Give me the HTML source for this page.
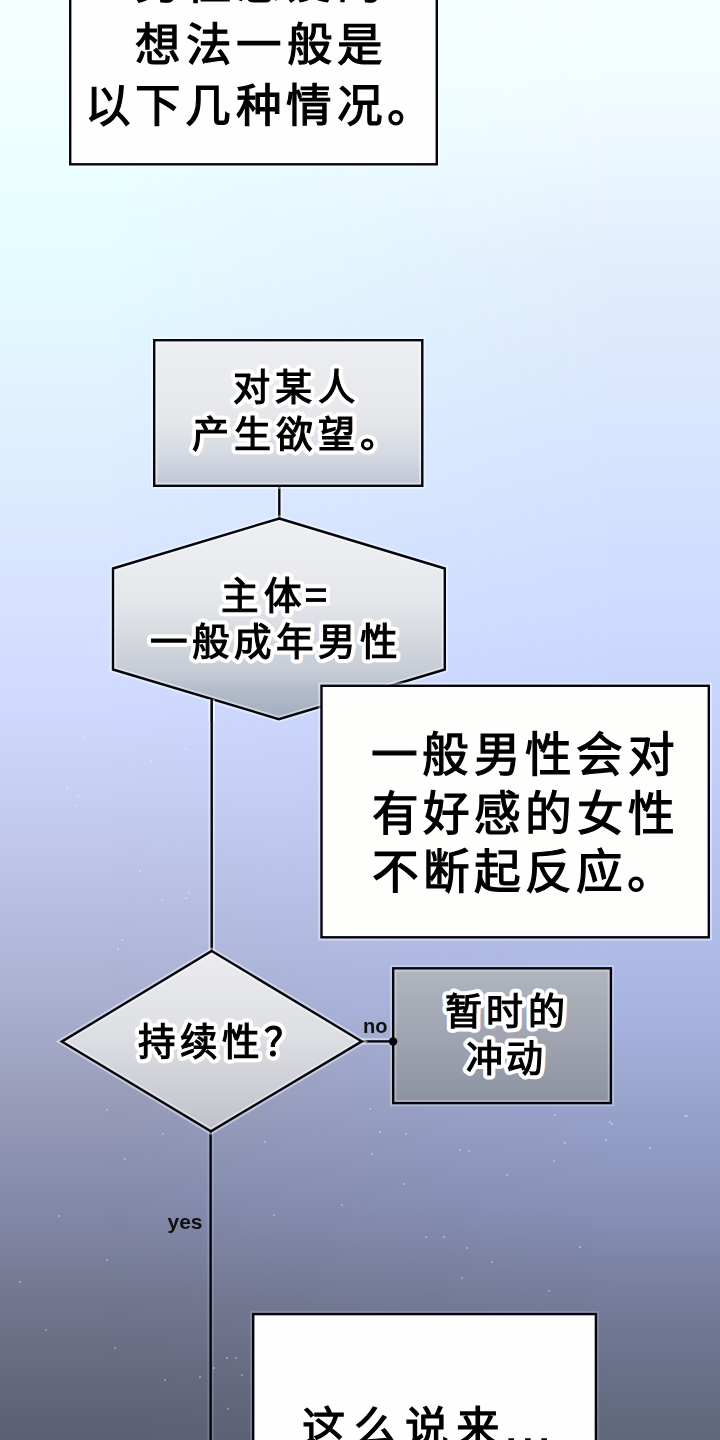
<!DOCTYPE html>
<html lang="zh-CN">
<head>
<meta charset="utf-8">
<title>flowchart</title>
<style>
html,body{margin:0;padding:0;width:720px;height:1440px;overflow:hidden;background:#8890b0;}
body{font-family:"Liberation Sans",sans-serif;}
svg{display:block;position:absolute;left:0;top:0;}
</style>
</head>
<body>
<svg width="720" height="1440" viewBox="0 0 720 1440"><defs><linearGradient id="bgL" gradientUnits="userSpaceOnUse" x1="0" y1="0" x2="0" y2="1440"><stop offset="0.0000" stop-color="#f6ffff"/><stop offset="0.0347" stop-color="#f4feff"/><stop offset="0.1042" stop-color="#ecffff"/><stop offset="0.1736" stop-color="#e6fcff"/><stop offset="0.2778" stop-color="#e0f2fe"/><stop offset="0.3472" stop-color="#dceafe"/><stop offset="0.4167" stop-color="#d6e2fe"/><stop offset="0.4861" stop-color="#d0dafe"/><stop offset="0.5556" stop-color="#c6cef0"/><stop offset="0.6250" stop-color="#b8bee0"/><stop offset="0.6944" stop-color="#aab0d0"/><stop offset="0.7639" stop-color="#989cb8"/><stop offset="0.8333" stop-color="#858aab"/><stop offset="0.9028" stop-color="#72768e"/><stop offset="0.9861" stop-color="#5e6276"/><stop offset="1.0000" stop-color="#5c6074"/></linearGradient><linearGradient id="bgR" gradientUnits="userSpaceOnUse" x1="0" y1="0" x2="0" y2="1440"><stop offset="0.0000" stop-color="#f6ffff"/><stop offset="0.0347" stop-color="#f4feff"/><stop offset="0.1042" stop-color="#ecf8ff"/><stop offset="0.1736" stop-color="#e2eefc"/><stop offset="0.3125" stop-color="#d6e4fe"/><stop offset="0.4375" stop-color="#ccdafe"/><stop offset="0.5521" stop-color="#c0ccf8"/><stop offset="0.7014" stop-color="#a8b4e0"/><stop offset="0.8403" stop-color="#8690b6"/><stop offset="0.9028" stop-color="#767c9a"/><stop offset="0.9792" stop-color="#646a80"/><stop offset="1.0000" stop-color="#60667c"/></linearGradient><linearGradient id="g2" gradientUnits="userSpaceOnUse" x1="0" y1="341" x2="0" y2="485"><stop offset="0.0000" stop-color="#eceef2"/><stop offset="0.4097" stop-color="#e8e9ed"/><stop offset="0.5486" stop-color="#e4e7ea"/><stop offset="0.6875" stop-color="#dcdfe4"/><stop offset="0.7917" stop-color="#d4d9e3"/><stop offset="0.8958" stop-color="#cacfdb"/><stop offset="1.0000" stop-color="#bec6d2"/></linearGradient><linearGradient id="ghex" gradientUnits="userSpaceOnUse" x1="0" y1="519" x2="0" y2="718"><stop offset="0.0000" stop-color="#eeeff2"/><stop offset="0.2563" stop-color="#eaebee"/><stop offset="0.4070" stop-color="#e4e6ea"/><stop offset="0.5075" stop-color="#dcdfe4"/><stop offset="0.6080" stop-color="#d4d8de"/><stop offset="0.7085" stop-color="#cbd0d8"/><stop offset="0.7839" stop-color="#c4cad4"/><stop offset="0.8593" stop-color="#b4bcca"/><stop offset="1.0000" stop-color="#a4aec0"/></linearGradient><linearGradient id="gdia" gradientUnits="userSpaceOnUse" x1="0" y1="952" x2="0" y2="1130"><stop offset="0.0000" stop-color="#ececf0"/><stop offset="0.2697" stop-color="#e4e5e9"/><stop offset="0.4944" stop-color="#dcdde2"/><stop offset="0.7191" stop-color="#d0d1d8"/><stop offset="0.8876" stop-color="#c6c8cf"/><stop offset="1.0000" stop-color="#bec0c8"/></linearGradient><linearGradient id="g4" gradientUnits="userSpaceOnUse" x1="0" y1="969" x2="0" y2="1103"><stop offset="0.0000" stop-color="#b0b6be"/><stop offset="0.2313" stop-color="#a8adb8"/><stop offset="0.4552" stop-color="#a2a6b2"/><stop offset="0.6791" stop-color="#9a9eab"/><stop offset="0.9030" stop-color="#8f96a4"/><stop offset="1.0000" stop-color="#8a92a2"/></linearGradient><linearGradient id="hm" x1="0" y1="0" x2="1" y2="0"><stop offset="0" stop-color="#000"/><stop offset="0.15" stop-color="#000"/><stop offset="0.85" stop-color="#fff"/><stop offset="1" stop-color="#fff"/></linearGradient><mask id="rm" maskUnits="userSpaceOnUse" x="0" y="0" width="720" height="1440"><rect x="0" y="0" width="720" height="1440" fill="url(#hm)"/></mask></defs>
<rect x="0" y="0" width="720" height="1440" fill="url(#bgL)"/>
<rect x="0" y="0" width="720" height="1440" fill="url(#bgR)" mask="url(#rm)"/>
<g fill="#fff" fill-opacity="0.45"><circle cx="84" cy="738" r="0.9"/><circle cx="186" cy="749" r="0.9"/><circle cx="151" cy="761" r="0.9"/><circle cx="67" cy="788" r="0.9"/><circle cx="78" cy="796" r="0.9"/><circle cx="76" cy="806" r="0.9"/><circle cx="140" cy="871" r="0.9"/><circle cx="189" cy="893" r="0.9"/><circle cx="186" cy="898" r="0.9"/><circle cx="162" cy="900" r="0.9"/><circle cx="122" cy="940" r="0.9"/><circle cx="118" cy="949" r="0.9"/><circle cx="107" cy="1110" r="0.9"/><circle cx="125" cy="1159" r="0.9"/><circle cx="163" cy="1134" r="0.9"/><circle cx="265" cy="1142" r="0.9"/><circle cx="342" cy="1205" r="0.9"/><circle cx="274" cy="1215" r="0.9"/><circle cx="107" cy="1260" r="0.9"/><circle cx="59" cy="1216" r="0.9"/><circle cx="20" cy="1282" r="0.9"/><circle cx="380" cy="1132" r="0.9"/><circle cx="372" cy="1154" r="0.9"/><circle cx="406" cy="1134" r="0.9"/><circle cx="460" cy="1150" r="0.9"/><circle cx="469" cy="1151" r="0.9"/><circle cx="554" cy="1161" r="0.9"/><circle cx="606" cy="1140" r="0.9"/><circle cx="555" cy="1115" r="0.9"/><circle cx="507" cy="1175" r="0.9"/><circle cx="404" cy="1184" r="0.9"/><circle cx="426" cy="1237" r="0.9"/><circle cx="444" cy="1237" r="0.9"/><circle cx="467" cy="1248" r="0.9"/><circle cx="492" cy="1262" r="0.9"/><circle cx="462" cy="1278" r="0.9"/><circle cx="549" cy="1291" r="0.9"/><circle cx="580" cy="1247" r="0.9"/><circle cx="650" cy="1148" r="0.9"/><circle cx="685" cy="1116" r="0.9"/><circle cx="370" cy="1109" r="0.9"/><circle cx="565" cy="1143" r="0.9"/><circle cx="610" cy="1122" r="0.9"/><circle cx="46" cy="1330" r="0.9"/><circle cx="115" cy="1348" r="0.9"/><circle cx="165" cy="1380" r="0.9"/><circle cx="200" cy="1377" r="0.9"/><circle cx="227" cy="1358" r="0.9"/><circle cx="236" cy="1358" r="0.9"/><circle cx="242" cy="1375" r="0.9"/><circle cx="228" cy="1409" r="0.9"/><circle cx="214" cy="1368" r="0.9"/><circle cx="687" cy="1116" r="0.9"/><circle cx="612" cy="1124" r="0.9"/></g>
<line x1="279.3" y1="487" x2="279.3" y2="519" stroke="#fff" stroke-opacity="0.45" stroke-width="6.4"/><line x1="279.3" y1="487" x2="279.3" y2="519" stroke="#05050f" stroke-width="2.4"/>
<line x1="211.7" y1="700" x2="211.7" y2="951" stroke="#fff" stroke-opacity="0.45" stroke-width="6.4"/><line x1="211.7" y1="700" x2="211.7" y2="951" stroke="#05050f" stroke-width="2.4"/>
<line x1="210.6" y1="1131" x2="210.6" y2="1445" stroke="#fff" stroke-opacity="0.15" stroke-width="6.4"/><line x1="210.6" y1="1131" x2="210.6" y2="1445" stroke="#05050f" stroke-width="2.4"/>
<line x1="362" y1="1041.4" x2="393" y2="1041.4" stroke="#fff" stroke-opacity="0.45" stroke-width="6.4"/><line x1="362" y1="1041.4" x2="393" y2="1041.4" stroke="#05050f" stroke-width="2.4"/>
<rect x="70.20" y="-18.80" width="366.60" height="183.10" fill="#fefefe"/><rect x="70.20" y="-18.80" width="366.60" height="183.10" fill="none" stroke="#fff" stroke-opacity="0.45" stroke-width="6.4"/><rect x="70.20" y="-18.80" width="366.60" height="183.10" fill="none" stroke="#05050f" stroke-width="2.4"/>
<rect x="154.20" y="340.20" width="268.10" height="145.60" fill="url(#g2)"/><rect x="154.20" y="340.20" width="268.10" height="145.60" fill="none" stroke="#fff" stroke-opacity="0.45" stroke-width="6.4"/><rect x="154.20" y="340.20" width="268.10" height="145.60" fill="none" stroke="#05050f" stroke-width="2.4"/>
<polygon points="279.3,518.5 444.8,568.5 444.8,669.5 278.8,719.2 113,669.5 113,568.5" fill="url(#ghex)"/><polygon points="279.3,518.5 444.8,568.5 444.8,669.5 278.8,719.2 113,669.5 113,568.5" fill="none" stroke="#fff" stroke-opacity="0.45" stroke-width="6.4" stroke-linejoin="miter"/><polygon points="279.3,518.5 444.8,568.5 444.8,669.5 278.8,719.2 113,669.5 113,568.5" fill="none" stroke="#05050f" stroke-width="2.4" stroke-linejoin="miter"/>
<line x1="211.7" y1="699" x2="211.7" y2="722" stroke="#fff" stroke-opacity="0.45" stroke-width="6.4"/><line x1="211.7" y1="699" x2="211.7" y2="722" stroke="#05050f" stroke-width="2.4"/>
<rect x="321.50" y="685.80" width="387.30" height="251.50" fill="#fefefd"/><rect x="321.50" y="685.80" width="387.30" height="251.50" fill="none" stroke="#fff" stroke-opacity="0.45" stroke-width="6.4"/><rect x="321.50" y="685.80" width="387.30" height="251.50" fill="none" stroke="#05050f" stroke-width="2.4"/>
<polygon points="211.7,951 361.8,1041.4 210.9,1131.3 61.8,1041.6" fill="url(#gdia)"/><polygon points="211.7,951 361.8,1041.4 210.9,1131.3 61.8,1041.6" fill="none" stroke="#fff" stroke-opacity="0.45" stroke-width="6.4" stroke-linejoin="miter"/><polygon points="211.7,951 361.8,1041.4 210.9,1131.3 61.8,1041.6" fill="none" stroke="#05050f" stroke-width="2.4" stroke-linejoin="miter"/>
<rect x="393.20" y="968.30" width="217.70" height="134.80" fill="url(#g4)"/><rect x="393.20" y="968.30" width="217.70" height="134.80" fill="none" stroke="#fff" stroke-opacity="0.3" stroke-width="6.4"/><rect x="393.20" y="968.30" width="217.70" height="134.80" fill="none" stroke="#05050f" stroke-width="2.4"/>
<circle cx="393.1" cy="1041.5" r="4.2" fill="#05050f"/>
<rect x="253.20" y="1314.10" width="342.70" height="144.70" fill="#fefefe"/><rect x="253.20" y="1314.10" width="342.70" height="144.70" fill="none" stroke="#fff" stroke-opacity="0.15" stroke-width="6.4"/><rect x="253.20" y="1314.10" width="342.70" height="144.70" fill="none" stroke="#05050f" stroke-width="2.4"/>
<g font-family="Liberation Sans, sans-serif" fill="#fff" stroke="#fff" stroke-width="9.2" stroke-linejoin="round"><text x="233.0" y="401.0" font-size="37.2" letter-spacing="5.3">对某人</text><text x="191.6" y="448.4" font-size="37.0" letter-spacing="5.1">产生欲望。</text><text x="221.3" y="609.3" font-size="37.6" letter-spacing="5.1">主体</text><text x="150.0" y="655.1" font-size="37.6" letter-spacing="4.0">一般成年男性</text><text x="137.6" y="1054.8" font-size="37.5" letter-spacing="5.0">持续性？</text><text x="445.3" y="1025.2" font-size="37.0" letter-spacing="4.2">暂时的</text><text x="466.2" y="1071.9" font-size="37.0" letter-spacing="2.6">冲动</text></g>
<g font-family="Liberation Sans, sans-serif" fill="#000" stroke="#000" stroke-width="1.2" opacity="0.999"><text x="135.4" y="-0.7" font-size="45.5" letter-spacing="4.5">男性恋爱的</text><text x="135.4" y="61.0" font-size="45.5" letter-spacing="4.5">想法一般是</text><text x="84.6" y="122.0" font-size="45.6" letter-spacing="4.4">以下几种情况。</text><text x="233.0" y="401.0" font-size="37.2" letter-spacing="5.3">对某人</text><text x="191.6" y="448.4" font-size="37.0" letter-spacing="5.1">产生欲望。</text><text x="221.3" y="609.3" font-size="37.6" letter-spacing="5.1">主体</text><text x="150.0" y="655.1" font-size="37.6" letter-spacing="4.0">一般成年男性</text><text x="370.8" y="770.9" font-size="46.7" letter-spacing="4.4">一般男性会对</text><text x="371.8" y="830.2" font-size="46.7" letter-spacing="4.2">有好感的女性</text><text x="372.2" y="887.5" font-size="46.7" letter-spacing="4.05">不断起反应。</text><text x="137.6" y="1054.8" font-size="37.5" letter-spacing="5.0">持续性？</text><text x="445.3" y="1025.2" font-size="37.0" letter-spacing="4.2">暂时的</text><text x="466.2" y="1071.9" font-size="37.0" letter-spacing="2.6">冲动</text><text x="302.4" y="1442.5" font-size="43.6" letter-spacing="7.2">这么说来</text></g>
<rect x="305.9" y="588.3" width="20.1" height="3.6" fill="#fff" stroke="#fff" stroke-width="8.0" stroke-linejoin="round"/><rect x="305.9" y="598.1" width="20.1" height="3.8" fill="#fff" stroke="#fff" stroke-width="8.0" stroke-linejoin="round"/>
<rect x="305.9" y="588.3" width="20.1" height="3.6" fill="#000"/><rect x="305.9" y="598.1" width="20.1" height="3.8" fill="#000"/>
<text x="501.7" y="1444.3" font-family="Liberation Sans, sans-serif" font-size="52" fill="#000" stroke="#000" stroke-width="0.6">…</text>
<g font-family="Liberation Sans, sans-serif" font-weight="bold" fill="#111" font-size="20" opacity="0.999"><text x="363" y="1033">no</text><text x="167.5" y="1229.4" font-size="21">yes</text></g>
</svg>
</body>
</html>
